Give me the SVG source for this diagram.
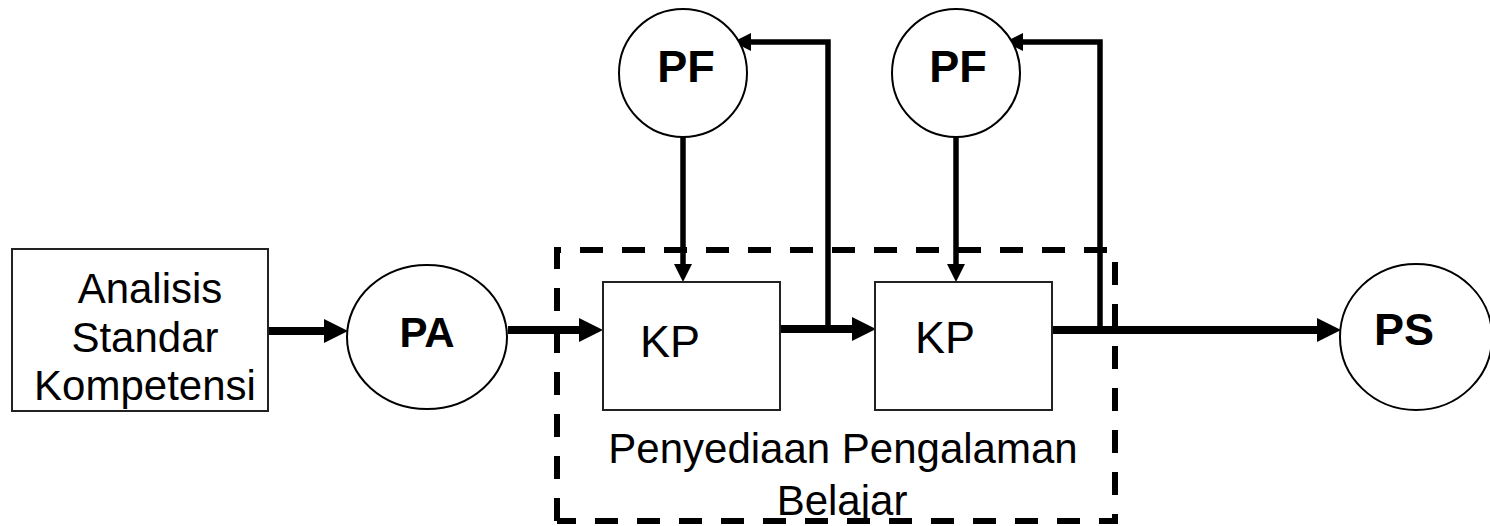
<svg xmlns="http://www.w3.org/2000/svg" width="1490" height="526" viewBox="0 0 1490 526">
<style>
.box{fill:#fff;stroke:#222;stroke-width:2}
.circ{fill:#fff;stroke:#000;stroke-width:2}
.t{font-family:"Liberation Sans",Arial,sans-serif;fill:#000;text-anchor:middle}
.b{font-weight:bold}
.main{fill:none;stroke:#000;stroke-width:8}
.thin{fill:none;stroke:#000;stroke-width:5.5}
.dash{fill:none;stroke:#000;stroke-width:6;stroke-dasharray:23 19}
</style>
<defs>
<marker id="ah" markerUnits="userSpaceOnUse" markerWidth="24" markerHeight="24" refX="0" refY="11.5" orient="auto" viewBox="0 0 23 23">
<path d="M0,0 L23,11.5 L0,23 z" fill="#000"/>
</marker>
<marker id="ahs" markerUnits="userSpaceOnUse" markerWidth="18" markerHeight="18" refX="0" refY="9" orient="auto" viewBox="0 0 18 18">
<path d="M0,0 L18,9 L0,18 z" fill="#000"/>
</marker>
</defs>
<rect width="1490" height="526" fill="#fff"/>
<g id="container">
<path class="dash" d="M557,521 V250 H1107"/>
<path class="dash" d="M1115,262 V521 H557"/>
</g>
<g id="connectors">
<line class="main" x1="268" y1="331" x2="324" y2="331" marker-end="url(#ah)"/>
<line class="main" x1="508" y1="330" x2="579" y2="330" marker-end="url(#ah)"/>
<line class="main" x1="780" y1="329" x2="852" y2="329" marker-end="url(#ah)"/>
<line class="main" x1="1052" y1="330" x2="1317" y2="330" marker-end="url(#ah)"/>
<line class="thin" x1="683" y1="137" x2="683" y2="264" marker-end="url(#ahs)"/>
<line class="thin" x1="956" y1="137" x2="956" y2="264" marker-end="url(#ahs)"/>
<path class="thin" d="M828,329 V42 H751" marker-end="url(#ahs)"/>
<path class="thin" d="M1100,330 V42 H1023" marker-end="url(#ahs)"/>
</g>
<g id="analisis">
<rect class="box" x="12" y="249" width="256" height="162"/>
<text class="t" font-size="42" x="150" y="303">Analisis</text>
<text class="t" font-size="42" x="145" y="352">Standar</text>
<text class="t" font-size="42" x="145" y="400">Kompetensi</text>
</g>
<g id="pa">
<ellipse class="circ" cx="427" cy="337" rx="80" ry="72"/>
<text class="t b" font-size="42" x="427" y="347">PA</text>
</g>
<g id="kp1">
<rect class="box" x="603" y="282" width="177" height="128"/>
<text class="t" font-size="45" x="670" y="357">KP</text>
</g>
<g id="kp2">
<rect class="box" x="875" y="282" width="177" height="128"/>
<text class="t" font-size="45" x="945" y="353">KP</text>
</g>
<g id="pf1">
<circle class="circ" cx="683" cy="73" r="64"/>
<text class="t b" font-size="45" x="686" y="82">PF</text>
</g>
<g id="pf2">
<circle class="circ" cx="956" cy="73" r="64"/>
<text class="t b" font-size="45" x="958" y="82">PF</text>
</g>
<g id="ps">
<ellipse class="circ" cx="1416" cy="337" rx="76" ry="73"/>
<text class="t b" font-size="45" x="1404" y="345">PS</text>
</g>
<g id="label">
<text class="t" font-size="42" x="843" y="463">Penyediaan Pengalaman</text>
<text class="t" font-size="42" x="842" y="515">Belajar</text>
</g>
</svg>
